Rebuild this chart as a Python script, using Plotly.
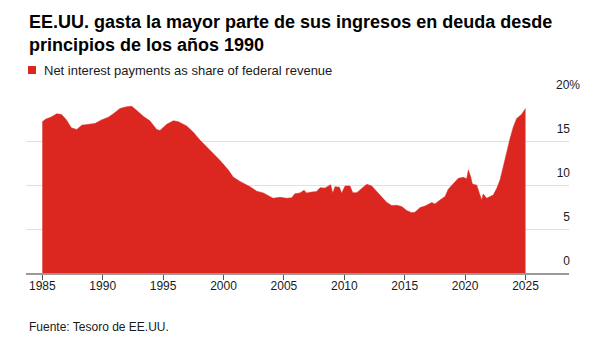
import plotly.graph_objects as go

years = [1985.0, 1985.3, 1985.7, 1986.2, 1986.6, 1987.0, 1987.4, 1987.85, 1988.26, 1988.8,
         1989.36, 1989.9, 1990.46, 1990.88, 1991.43, 1991.99, 1992.4, 1992.8, 1993.36, 1993.9,
         1994.47, 1994.74, 1995.3, 1995.85, 1996.26, 1996.95, 1997.5, 1998.05, 1998.88, 1999.7,
         2000.4, 2000.8, 2001.37, 2002.2, 2002.75, 2003.3, 2004.1, 2004.68, 2005.23, 2005.65,
         2005.9, 2006.33, 2006.66, 2006.88, 2007.3, 2007.7, 2007.99, 2008.4, 2008.87, 2009.04,
         2009.23, 2009.6, 2009.78, 2010.06, 2010.47, 2010.7, 2011.03, 2011.44, 2011.85, 2012.27,
         2012.68, 2013.1, 2013.5, 2013.92, 2014.34, 2014.75, 2015.17, 2015.58, 2015.85, 2016.27,
         2016.68, 2017.24, 2017.5, 2017.92, 2018.34, 2018.6, 2019.02, 2019.44, 2019.85, 2020.13,
         2020.27, 2020.46, 2020.6, 2020.96, 2021.18, 2021.37, 2021.5, 2021.79, 2022.06, 2022.33,
         2022.62, 2022.89, 2023.16, 2023.44, 2023.72, 2023.99, 2024.27, 2024.68, 2025.0]

share = [17.2, 17.5, 17.7, 18.1, 18.0, 17.4, 16.5, 16.3, 16.8, 16.9,
         17.0, 17.4, 17.7, 18.1, 18.7, 18.9, 18.95, 18.5, 17.8, 17.3,
         16.3, 16.2, 16.9, 17.3, 17.2, 16.7, 16.0, 15.1, 14.0, 12.8,
         11.7, 10.9, 10.4, 9.8, 9.3, 9.1, 8.5, 8.6, 8.5, 8.55,
         9.0, 9.1, 9.4, 9.1, 9.2, 9.25, 9.7, 9.65, 10.04, 9.06,
         9.81, 9.75, 9.06, 9.89, 9.89, 9.13, 9.13, 9.62, 10.08, 9.89,
         9.24, 8.68, 8.04, 7.66, 7.7, 7.55, 7.09, 6.86, 6.9, 7.43,
         7.6, 8.0, 7.85, 8.3, 8.68, 9.51, 10.19, 10.76, 10.87, 10.7,
         11.7, 10.94, 10.11, 9.98, 9.06, 8.3, 8.98, 8.49, 8.68, 8.87,
         9.62, 10.57, 12.08, 13.77, 15.29, 16.6, 17.55, 18.04, 18.69]

x_ticks = [1985, 1990, 1995, 2000, 2005, 2010, 2015, 2020, 2025]
y_ticks = [0, 5, 10, 15, 20]
NB = "\u00a0"
y_labels = ["0" + NB * 3, "5" + NB * 3, "10" + NB * 3, "15" + NB * 3, "20%"]

title_text = "EE.UU. gasta la mayor parte de sus ingresos en deuda desde<br>principios de los años 1990"
legend_text = "Net interest payments as share of federal revenue"
source_text = "Fuente: Tesoro de EE.UU."

RED = "#dc2620"
FONT = "Liberation Sans"

fig = go.Figure()
fig.add_trace(go.Scatter(
    x=years, y=share, mode="lines", fill="tozeroy",
    fillcolor=RED, line=dict(color=RED, width=0.5),
    showlegend=False, hoverinfo="x+y",
))

fig.update_layout(
    width=602, height=337,
    margin=dict(l=26, r=33, t=97, b=64),
    paper_bgcolor="white", plot_bgcolor="white",
    font=dict(family=FONT, size=12, color="#1a1a1a"),
    xaxis=dict(
        range=[1983.65, 2028.6], tickmode="array", tickvals=x_ticks,
        showgrid=False, zeroline=False, showline=True, linecolor="#999999", linewidth=1.5,
        ticks="outside", ticklen=5, tickcolor="#555555", tickwidth=1,
        ticklabelstandoff=-4,
        tickfont=dict(size=12, color="#1a1a1a"),
    ),
    yaxis=dict(
        range=[0, 20], side="right", tickmode="array", tickvals=y_ticks, ticktext=y_labels,
        showgrid=True, gridcolor="#e0e0e0", gridwidth=1, zeroline=False,
        ticks="", ticklabelposition="inside top", ticklabeloverflow="allow",
        ticklabelstandoff=-14, ticklabelshift=-4,
        tickfont=dict(size=12, color="#1a1a1a"),
    ),
    annotations=[
        dict(text="<b>" + title_text + "</b>", xref="paper", yref="paper",
             x=0, y=1, xshift=1, yshift=87, xanchor="left", yanchor="top",
             align="left", showarrow=False, font=dict(size=18, color="#000000")),
        dict(text=legend_text, xref="paper", yref="paper", x=0, y=1,
             xshift=16, yshift=36, xanchor="left", yanchor="top",
             align="left", showarrow=False, font=dict(size=13, color="#1a1a1a")),
        dict(text=source_text, xref="paper", yref="paper", x=0, y=0,
             xshift=1, yshift=-45, xanchor="left", yanchor="top",
             align="left", showarrow=False, font=dict(size=12, color="#1a1a1a")),
    ],
    shapes=[
        dict(type="rect", xref="paper", yref="paper", xsizemode="pixel", ysizemode="pixel",
             xanchor=0, yanchor=1, x0=2, x1=10, y0=23, y1=31,
             fillcolor=RED, line=dict(width=0)),
    ],
)

fig.write_html("out.html")
